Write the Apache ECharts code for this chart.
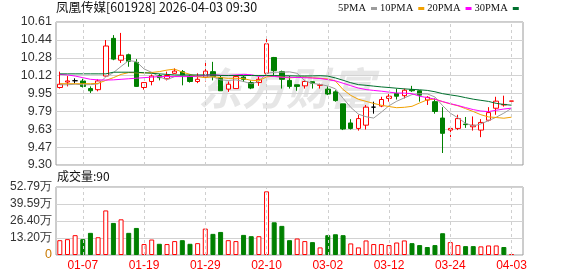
<!DOCTYPE html>
<html><head><meta charset="utf-8">
<script src="https://cdn.jsdelivr.net/npm/echarts@6/dist/echarts.min.js"></script>
<style>html,body{margin:0;padding:0;background:#fff}#c{width:578px;height:276px}</style>
</head><body><div id="c"></div>
<script>
const dates = ['12-31','01-05','01-06','01-07','01-08','01-09','01-12','01-13','01-14','01-15','01-16','01-19','01-20','01-21','01-22','01-23','01-26','01-27','01-28','01-29','01-30','02-02','02-03','02-04','02-05','02-06','02-09','02-10','02-11','02-12','02-13','02-24','02-25','02-26','02-27','03-02','03-03','03-04','03-05','03-06','03-09','03-10','03-11','03-12','03-13','03-16','03-17','03-18','03-19','03-20','03-23','03-24','03-25','03-26','03-27','03-30','03-31','04-01','04-02','04-03'];
const labelDates = ['01-07','01-19','01-29','02-10','03-02','03-12','03-24','04-03'];
const opens  = [10.01,10.06,10.072,10.07,10.00,9.99,10.115,10.46,10.26,10.31,10.24,10.01,10.065,10.12,10.09,10.14,10.155,10.115,10.065,10.105,10.155,10.10,9.995,10.00,10.105,10.055,10.055,10.14,10.285,10.155,10.075,10.035,10.025,10.063,10.03,9.995,9.97,9.86,9.685,9.635,9.665,9.83,9.84,9.91,9.955,9.935,9.99,9.98,9.895,9.88,9.73,9.62,9.635,9.675,9.65,9.62,9.71,9.82,9.85,9.885];
const closes = [10.04,10.07,10.072,10.02,9.98,10.07,10.39,10.27,10.305,10.25,10.02,10.055,10.115,10.10,10.12,10.16,10.115,10.065,10.085,10.16,10.11,9.98,10.04,10.11,10.085,10.005,10.085,10.41,10.165,10.085,10.02,10.02,10.065,10.05,10.035,9.95,9.89,9.63,9.635,9.725,9.83,9.83,9.90,9.93,9.93,9.985,9.98,9.94,9.92,9.79,9.59,9.635,9.725,9.67,9.665,9.69,9.78,9.885,9.855,9.886];
const highs  = [10.155,10.115,10.094,10.09,10.02,10.085,10.445,10.49,10.51,10.32,10.27,10.06,10.13,10.135,10.155,10.185,10.17,10.125,10.14,10.255,10.245,10.12,10.065,10.125,10.12,10.075,10.11,10.46,10.29,10.165,10.115,10.035,10.08,10.065,10.045,10.02,9.985,9.86,9.72,9.76,9.85,9.88,9.925,9.95,10.00,10.00,10.025,9.985,9.93,9.91,9.83,9.64,9.76,9.74,9.745,9.72,9.83,9.925,9.935,9.886];
const lows   = [10.00,10.02,10.048,10.01,9.96,9.975,10.11,10.26,10.235,10.20,10.015,9.99,10.03,10.075,10.075,10.135,10.03,10.055,10.05,10.065,10.075,9.98,9.97,10.00,10.06,9.995,10.025,10.125,10.125,10.00,10.00,9.98,10.00,10.00,10.00,9.94,9.88,9.62,9.625,9.615,9.625,9.77,9.83,9.88,9.90,9.91,9.97,9.88,9.85,9.77,9.41,9.555,9.62,9.64,9.615,9.555,9.70,9.76,9.835,9.885];
// volume in 万 (10k)
const volumes = [11.5,12.3,15.4,12.3,17.2,13.8,34.6,24.9,27.7,17.2,21.0,8.5,12.0,8.7,8.5,10.8,11.5,8.7,9.2,20.5,16.4,17.9,11.5,10.8,15.6,14.6,14.6,49.4,25.4,22.6,11.5,12.8,10.8,10.0,5.9,15.4,16.1,15.4,9.0,5.9,11.3,8.5,8.5,7.7,9.7,11.3,9.2,7.7,6.2,7.7,16.9,10.0,7.7,6.9,6.9,6.7,7.4,7.4,6.2,0.009];
const volUp = [1,1,1,0,0,1,1,0,1,0,0,1,1,0,1,1,0,0,1,1,0,0,1,1,0,0,1,1,0,0,0,1,1,0,1,0,0,0,1,1,1,1,1,1,1,1,0,0,0,0,0,1,1,0,0,1,1,1,0,1];
const ma5Head  = [10.035,10.035,10.04,10.035];
const ma10Head = [10.045,10.045,10.045,10.045,10.045,10.048,10.075,10.10,10.13];
const ma20Head = [10.13,10.125,10.115,10.10,10.085,10.08,10.078,10.08,10.085,10.09,10.095,10.10,10.105,10.11,10.11,10.11,10.11,10.11,10.115];
const ma30Head = [10.135,10.135,10.135,10.135,10.135,10.135,10.135,10.15,10.15,10.15,10.15,10.145,10.14,10.135,10.13,10.125,10.125,10.125,10.125,10.125,10.125,10.12,10.12,10.12,10.12,10.12,10.12,10.12,10.12];
const priceTicks = ['9.30','9.47','9.63','9.79','9.95','10.12','10.28','10.44','10.61'];
const volTicks = ['0','13.20万','26.40万','39.59万','52.79万'];
const titleText = '凤凰传媒[601928] 2026-04-03 09:30';
const volText = '成交量:90';

function ma(n, head) {
  return closes.map((c, i) => {
    if (i < head.length) return head[i];
    let s = 0; for (let k = i - n + 1; k <= i; k++) s += closes[k];
    return +(s / n).toFixed(4);
  });
}
const axisDates = dates.concat(['']);
const candleData = dates.map((d, i) => [opens[i], closes[i], lows[i], highs[i]]);
const volData = volumes.map((v, i) => ({
  value: v,
  itemStyle: volUp[i] ? {color: '#fff', borderColor: '#ff0000', borderWidth: 1}
                      : {color: '#008000', borderColor: '#008000', borderWidth: 1}
}));
const vLines = labelDates.map(d => ({xAxis: d}));
const markLineCfg = {
  silent: true, symbol: ['none', 'none'], label: {show: false},
  lineStyle: {color: '#cfcfcf', type: [3, 3], width: 1}, data: vLines, animation: false
};
const PMIN = 9.30, PMAX = 10.61;
const VMAX = 52.79;
const sans = '"Liberation Sans", Arial, sans-serif';
const cjk = '"Noto Sans CJK SC", sans-serif';

const chart = echarts.init(document.getElementById('c'), null, {renderer: 'canvas'});
chart.setOption({
  animation: false,
  backgroundColor: '#fff',
  title: [
    {text: titleText, left: 56, top: 1, padding: 0,
     textStyle: {fontSize: 12.5, fontWeight: 'normal', color: '#111', fontFamily: cjk}},
    {text: volText, left: 57, top: 170, padding: 0,
     textStyle: {fontSize: 12, fontWeight: 'normal', color: '#111', fontFamily: cjk}}
  ],
  legend: {
    data: ['5PMA', '10PMA', '20PMA', '30PMA'], left: 338, top: 3, padding: 0,
    align: 'right', icon: 'rect', itemWidth: 6, itemHeight: 3, itemGap: 3,
    selectedMode: false,
    textStyle: {fontSize: 10.5, fontFamily: '"Liberation Serif", serif', color: '#111'}
  },
  graphic: [{
    type: 'text', left: 198, top: 66, z: -10, silent: true,
    style: {text: '东方财富', font: 'italic bold 44px "Noto Sans CJK SC"', fill: '#e6e6e6'}
  }],
  grid: [
    {left: 56, top: 22, width: 467, height: 143, show: true, borderColor: '#9a9a9a', borderWidth: 1, backgroundColor: 'transparent'},
    {left: 56, top: 187, width: 467, height: 68, show: true, borderColor: '#9a9a9a', borderWidth: 1, backgroundColor: 'transparent'}
  ],
  xAxis: [
    {type: 'category', data: axisDates, gridIndex: 0, boundaryGap: true,
     axisLine: {show: false}, axisTick: {show: false}, axisLabel: {show: false}, splitLine: {show: false}},
    {type: 'category', data: axisDates, gridIndex: 1, boundaryGap: true,
     axisLine: {show: false}, axisTick: {show: false}, splitLine: {show: false},
     axisLabel: {interval: (idx, val) => labelDates.indexOf(val) >= 0, color: '#ff0000', fontSize: 12, margin: 5, fontFamily: sans}}
  ],
  yAxis: [
    {type: 'value', gridIndex: 0, min: PMIN, max: PMAX, show: false, splitLine: {show: false}},
    {type: 'value', gridIndex: 0, min: 0, max: priceTicks.length - 1, interval: 1, position: 'left',
     axisLine: {show: false}, axisTick: {show: false},
     axisLabel: {formatter: v => priceTicks[Math.round(v)], color: '#333', fontSize: 12.5, margin: 4, fontFamily: sans},
     splitLine: {lineStyle: {color: '#d2d2d2', width: 1}}},
    {type: 'value', gridIndex: 1, min: 0, max: VMAX, interval: VMAX / 4, position: 'left',
     axisLine: {show: false}, axisTick: {show: false},
     axisLabel: {formatter: v => { const s = volTicks[Math.round(v / (VMAX / 4))]; return s === '0' ? '{z|0}' : s; },
       color: '#333', fontSize: 12, margin: 4, fontFamily: sans,
       rich: {z: {color: '#c87800', fontSize: 12.5, fontFamily: sans}}},
     splitLine: {lineStyle: {color: '#d2d2d2', width: 1}}}
  ],
  series: [
    {type: 'candlestick', name: 'K', xAxisIndex: 0, yAxisIndex: 0, data: candleData, barWidth: 5,
     itemStyle: {color: '#ffffff', color0: '#008000', borderColor: '#ff0000', borderColor0: '#008000', borderColorDoji: '#000000', borderWidth: 1},
     markLine: markLineCfg},
    {type: 'line', name: '5PMA', xAxisIndex: 0, yAxisIndex: 0, data: ma(5, ma5Head), showSymbol: false, symbol: 'none',
     color: '#9c9c9c', lineStyle: {width: 1, color: '#9c9c9c'}, silent: true, z: 3},
    {type: 'line', name: '10PMA', xAxisIndex: 0, yAxisIndex: 0, data: ma(10, ma10Head), showSymbol: false, symbol: 'none',
     color: '#f2a100', lineStyle: {width: 1, color: '#f2a100'}, silent: true, z: 3},
    {type: 'line', name: '20PMA', xAxisIndex: 0, yAxisIndex: 0, data: ma(20, ma20Head), showSymbol: false, symbol: 'none',
     color: '#ff00ff', lineStyle: {width: 1, color: '#ff00ff'}, silent: true, z: 3},
    {type: 'line', name: '30PMA', xAxisIndex: 0, yAxisIndex: 0, data: ma(30, ma30Head), showSymbol: false, symbol: 'none',
     color: '#00702e', lineStyle: {width: 1, color: '#00702e'}, silent: true, z: 3},
    {type: 'bar', name: 'VOL', xAxisIndex: 1, yAxisIndex: 2, data: volData, barWidth: 5, barMinHeight: 1,
     markLine: markLineCfg}
  ]
});
</script></body></html>
